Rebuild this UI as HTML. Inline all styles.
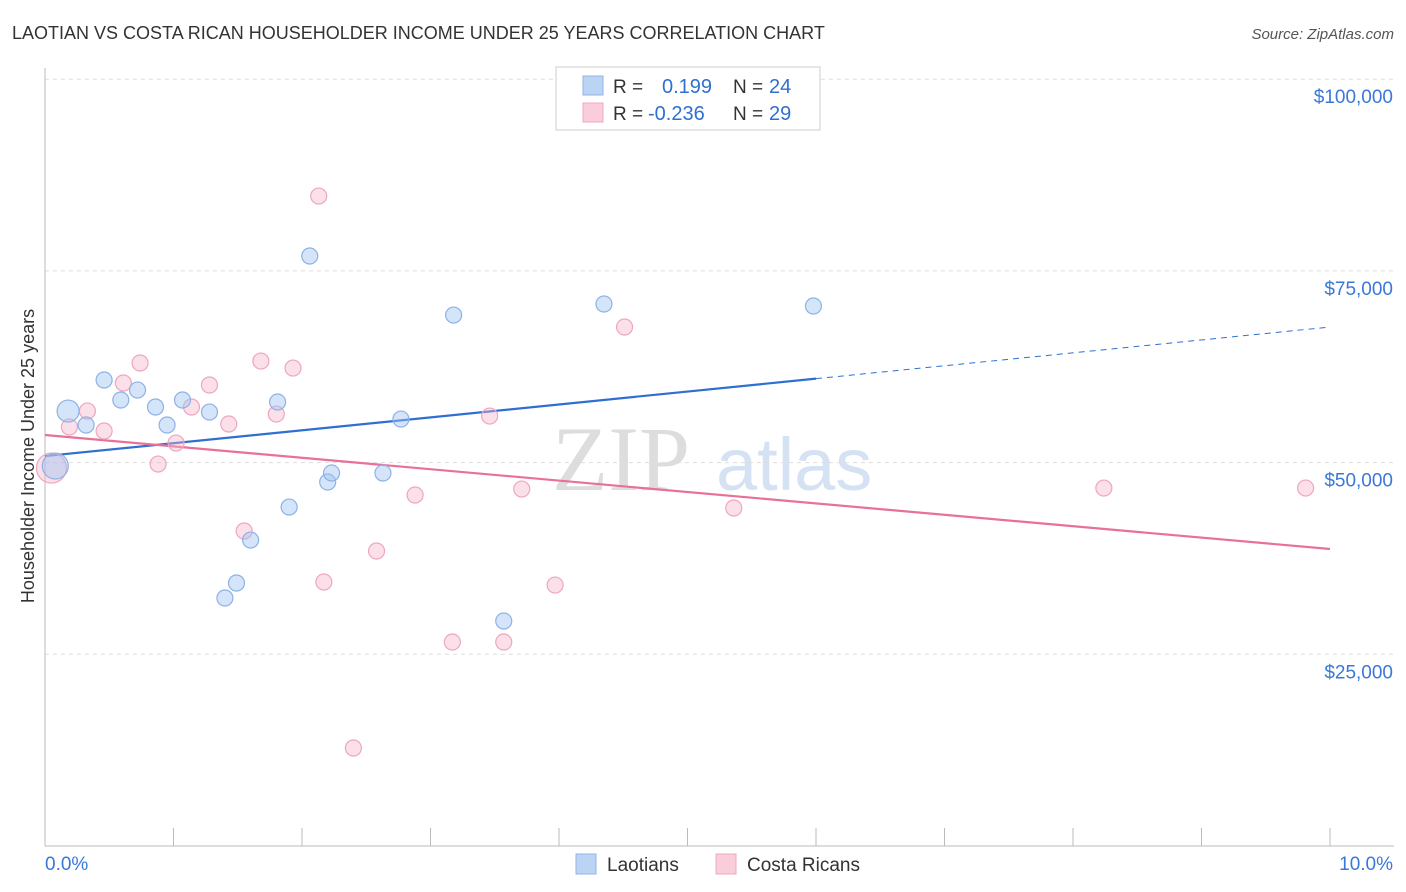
<!DOCTYPE html>
<html><head><meta charset="utf-8"><style>
body{margin:0;background:#fff;font-family:"Liberation Sans",sans-serif;}
#wrap{position:relative;width:1406px;height:892px;overflow:hidden;}
</style></head><body>
<div id="wrap">
<svg id="chart" width="1406" height="892" xmlns="http://www.w3.org/2000/svg">
<text x="12" y="39" font-size="18" fill="#333">LAOTIAN VS COSTA RICAN HOUSEHOLDER INCOME UNDER 25 YEARS CORRELATION CHART</text>
<text x="1394" y="39" font-size="15" fill="#555" text-anchor="end" font-style="italic">Source: ZipAtlas.com</text>
<text x="34" y="456" font-size="18" fill="#333" text-anchor="middle" transform="rotate(-90 34 456)">Householder Income Under 25 years</text>
<g><text x="552" y="490" font-size="92" fill="#d0d0d0" font-family="Liberation Serif,serif" opacity="0.7">ZIP</text><text x="716" y="490" font-size="74" fill="#b8cfee" opacity="0.6">atlas</text></g>
<g id="grid"></g><g id="axes"></g><g id="lines"></g><g id="pts"></g>
<g>
<rect x="556" y="67" width="264" height="63" fill="#fff" stroke="#ccc"/>
<rect x="583" y="76" width="20" height="19" fill="#bcd4f4" stroke="#8fb4e8"/>
<text x="613" y="93" font-size="19" fill="#333">R =</text><text x="662" y="93" font-size="20" fill="#2f6fd0">0.199</text>
<text x="733" y="93" font-size="19" fill="#333">N =</text><text x="769" y="93" font-size="20" fill="#2f6fd0">24</text>
<rect x="583" y="103" width="20" height="19" fill="#f9cdda" stroke="#f0a8c0"/>
<text x="613" y="120" font-size="19" fill="#333">R =</text><text x="648" y="120" font-size="20" fill="#2f6fd0">-0.236</text>
<text x="733" y="120" font-size="19" fill="#333">N =</text><text x="769" y="120" font-size="20" fill="#2f6fd0">29</text>
</g>
<g>
<rect x="576" y="854" width="20" height="20" fill="#bcd4f4" stroke="#8fb4e8"/><text x="607" y="871" font-size="19" fill="#333">Laotians</text>
<rect x="716" y="854" width="20" height="20" fill="#f9cdda" stroke="#f0a8c0"/><text x="747" y="871" font-size="19" fill="#333">Costa Ricans</text>
</g>
<text x="45" y="870" font-size="19" fill="#3a78d8">0.0%</text>
<text x="1393" y="870" font-size="19" fill="#3a78d8" text-anchor="end">10.0%</text>
</svg>
</div>
<script>
const yTicks=[25000,50000,75000,100000];
const yTickLabels=["$25,000","$50,000","$75,000","$100,000"];
const xTicks=[0,1,2,3,4,5,6,7,8,9,10];
const laoX=[0.08,0.18,0.32,0.46,0.59,0.72,0.86,0.95,1.07,1.28,1.40,1.49,1.60,1.81,1.90,2.06,2.20,2.23,2.63,2.77,3.18,3.57,4.35,5.98];
const laoY=[49550,56720,54900,60770,58160,59460,57250,54900,58160,56590,32340,34300,39900,57900,44200,76940,47470,48640,48640,55680,69240,29340,70680,70420];
const laoR=[13,11,8,8,8,8,8,8,8,8,8,8,8,8,8,8,8,8,8,8,8,8,8,8];
const crX=[0.05,0.19,0.33,0.46,0.61,0.74,0.88,1.02,1.14,1.28,1.43,1.55,1.68,1.80,1.93,2.13,2.17,2.40,2.58,2.88,3.17,3.46,3.57,3.71,3.97,4.51,5.36,8.24,9.81];
const crY=[49290,54640,56720,54120,60380,62990,49810,52550,57250,60120,55030,41080,63240,56330,62330,84760,34430,12780,38470,45770,26600,56070,26600,46550,34030,67680,44080,46680,46680];
const crR=[15,8,8,8,8,8,8,8,8,8,8,8,8,8,8,8,8,8,8,8,8,8,8,8,8,8,8,8,8];
const laoTrend=[50850,67680];
const crTrend=[53600,38730];
const laoSolidEnd=6;

const X=v=>45+v*128.5, Y=v=>846-v/25000*191.7;
const NS="http://www.w3.org/2000/svg";
function mk(t,a,p){const e=document.createElementNS(NS,t);for(const k in a)e.setAttribute(k,a[k]);p.appendChild(e);return e;}
const grid=document.getElementById('grid'),axes=document.getElementById('axes'),lines=document.getElementById('lines'),pts=document.getElementById('pts');
yTicks.forEach((t,i)=>{
 const l=mk('line',{x1:45,x2:1394,y1:Y(t),y2:Y(t),stroke:'#ddd','stroke-dasharray':'4,4'},grid);
 
 
 const tx=mk('text',{x:1393,y:Y(t)+24,'font-size':19,fill:'#3a78d8','text-anchor':'end'},axes);
 tx.textContent=yTickLabels[i];
 
 
});
const ax=mk('line',{x1:45,x2:1394,y1:846,y2:846,stroke:'#bbb'},axes);


const ay=mk('line',{x1:45,x2:45,y1:68,y2:846,stroke:'#bbb'},axes);


xTicks.forEach(t=>{
 const l=mk('line',{x1:X(t),x2:X(t),y1:828,y2:846,stroke:'#bbb'},axes);
 
 
});
function draw(xs,ys,rs,fill,stroke,name){
 xs.forEach((x,i)=>{
  const c=mk('circle',{cx:X(x),cy:Y(ys[i]),r:rs[i],fill:fill,stroke:stroke,'stroke-width':1.2},pts);
  
  
 });
}
draw(crX,crY,crR,'rgba(246,178,202,0.4)','#eea6bf','costa-rican-point');
draw(laoX,laoY,laoR,'rgba(160,195,242,0.45)','#8db2e6','laotian-point');
const ly=v=>laoTrend[0]+(laoTrend[1]-laoTrend[0])*v/10;
const b1=mk('line',{x1:X(0),y1:Y(ly(0)),x2:X(laoSolidEnd),y2:Y(ly(laoSolidEnd)),stroke:'#2f6fd0','stroke-width':2.2},lines);


const b2=mk('line',{x1:X(laoSolidEnd),y1:Y(ly(laoSolidEnd)),x2:X(10),y2:Y(ly(10)),stroke:'#2f6fd0','stroke-width':1,'stroke-dasharray':'6,5'},lines);


const p1=mk('line',{x1:X(0),y1:Y(crTrend[0]),x2:X(10),y2:Y(crTrend[1]),stroke:'#e8709a','stroke-width':2.2},lines);


</script>
</body></html>
